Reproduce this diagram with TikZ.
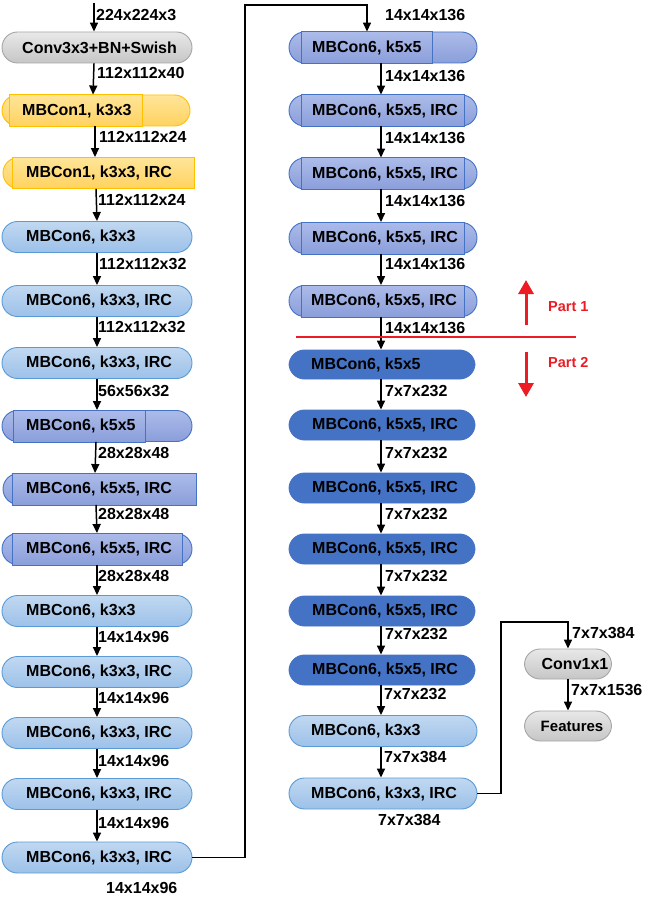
\documentclass[tikz,border=0pt]{standalone}
\usepackage{fontspec}
\setmainfont{Liberation Sans}
\usetikzlibrary{arrows.meta,calc}
\definecolor{lbT}{RGB}{193,216,241}
\definecolor{lbB}{RGB}{156,193,233}
\definecolor{lbD}{RGB}{91,155,213}
\definecolor{pT}{RGB}{172,187,233}
\definecolor{pB}{RGB}{138,158,218}
\definecolor{pD}{RGB}{68,114,196}
\definecolor{dk}{RGB}{68,114,196}
\definecolor{yT}{RGB}{255,229,153}
\definecolor{yB}{RGB}{255,210,95}
\definecolor{yD}{RGB}{255,192,0}
\definecolor{gT}{RGB}{232,232,232}
\definecolor{gB}{RGB}{198,198,198}
\definecolor{gD}{RGB}{165,165,165}
\definecolor{redc}{RGB}{237,28,36}
\begin{document}
\begin{tikzpicture}[x=1pt,y=-1pt,
 pill/.style={rectangle,rounded corners=15.5pt,minimum height=31pt,inner sep=0pt,line width=0.9pt},
 lw/.style={minimum width=190pt},
 rw/.style={minimum width=188pt},
 lb/.style={pill,draw=lbD,top color=lbT,bottom color=lbB},
 pu/.style={pill,draw=pD,top color=pT,bottom color=pB},
 purect/.style={draw=pD,line width=0.9pt,top color=pT,bottom color=pB},
 dkb/.style={pill,draw=dk,fill=dk},
 ye/.style={pill,draw=yD,top color=yT,bottom color=yB},
 yerect/.style={draw=yD,line width=0.9pt,top color=yT,bottom color=yB},
 gr/.style={pill,draw=gD,top color=gT,bottom color=gB},
 btxt/.style={anchor=west,inner sep=0pt,font=\bfseries\fontsize{16}{19}\selectfont},
 lab/.style={anchor=west,inner sep=0pt,font=\bfseries\fontsize{16}{19}\selectfont},
 arr/.style={-{Triangle[length=9pt,width=8pt]},line width=1.5pt},
 redline/.style={draw=redc,line width=2.8pt},
 redarr/.style={draw=redc,line width=3pt,-{Triangle[length=14pt,width=15pt]},redc},
 ptxt/.style={anchor=west,inner sep=0pt,text=redc,font=\bfseries\fontsize{14.5}{17}\selectfont}
]
\useasboundingbox (0,0) rectangle (655,909);

% ---- left column pills
\node[gr,lw] (L0) at (97,47.5) {};
\node[ye,minimum width=188pt] (L1) at (96,110.5) {};
\node[ye,minimum width=186pt] (L2) at (96,173) {};
\node[lb,lw] (L3) at (97,237) {};
\node[lb,lw] (L4) at (97,301) {};
\node[lb,lw] (L5) at (97,363) {};
\node[pu,lw] (L6) at (97,426) {};
\node[pu,minimum width=186pt] (L7) at (96,489) {};
\node[pu,lw] (L8) at (97,549) {};
\node[lb,lw] (L9) at (97,611) {};
\node[lb,lw] (L10) at (97,672) {};
\node[lb,lw] (L11) at (97,733) {};
\node[lb,lw] (L12) at (97,794) {};
\node[lb,lw] (L13) at (97,857.5) {};

% ---- right column pills
\node[pu,rw] (R0) at (383,47.5) {};
\node[pu,rw] (R1) at (383,110.5) {};
\node[pu,rw] (R2) at (383,173.5) {};
\node[pu,rw] (R3) at (383,238) {};
\node[pu,rw] (R4) at (383,301) {};
\node[dkb,minimum width=186pt,minimum height=29pt] (R5) at (382,364.5) {};
\node[dkb,minimum width=186pt,minimum height=30pt] (R6) at (382,425) {};
\node[dkb,minimum width=186pt,minimum height=30pt] (R7) at (382,488) {};
\node[dkb,minimum width=186pt,minimum height=30pt] (R8) at (382,549) {};
\node[dkb,minimum width=186pt,minimum height=30pt] (R9) at (382,611) {};
\node[dkb,minimum width=186pt,minimum height=30pt] (R10) at (382,670) {};
\node[lb,rw] (R11) at (383,731) {};
\node[lb,rw] (R12) at (383,793.5) {};

% ---- side pills
\node[gr,minimum width=87pt,minimum height=30pt] (C1) at (568,664) {};
\node[gr,minimum width=87pt,minimum height=30pt] (F1) at (568,726) {};

% ---- inner rectangles
\draw[yerect] ($(L1.north west)+(8,0)$) rectangle ($(L1.south west)+(141,0)$);
\draw[yerect] ($(L2.north west)+(10,0)$) rectangle ($(L2.south west)+(192,0)$);
\draw[purect] ($(L6.north west)+(12,0)$) rectangle ($(L6.south west)+(144,0)$);
\draw[purect] ($(L7.north west)+(10,0)$) rectangle ($(L7.south west)+(194,0)$);
\draw[purect] ($(L8.north west)+(11,0)$) rectangle ($(L8.south west)+(181,0)$);
\draw[purect] ($(R0.north west)+(13,0)$) rectangle ($(R0.south west)+(144,0)$);
\draw[purect] ($(R1.north west)+(13,0)$) rectangle ($(R1.south west)+(176,0)$);
\draw[purect] ($(R2.north west)+(13,0)$) rectangle ($(R2.south west)+(176,0)$);
\draw[purect] ($(R3.north west)+(13,0)$) rectangle ($(R3.south west)+(176,0)$);
\draw[purect] ($(R4.north west)+(13,0)$) rectangle ($(R4.south west)+(176,0)$);

% ---- texts in pills
\node[btxt] (L0t) at (22,47.5) {Conv3x3+BN+Swish};
\node[btxt] (L1t) at (22,110.5) {MBCon1, k3x3};
\node[btxt] (L2t) at (26,173) {MBCon1, k3x3, IRC};
\node[btxt] (L3t) at (26,237) {MBCon6, k3x3};
\node[btxt] (L4t) at (26,301) {MBCon6, k3x3, IRC};
\node[btxt] (L5t) at (26,363) {MBCon6, k3x3, IRC};
\node[btxt] (L6t) at (26,426) {MBCon6, k5x5};
\node[btxt] (L7t) at (26,489) {MBCon6, k5x5, IRC};
\node[btxt] (L8t) at (26,549) {MBCon6, k5x5, IRC};
\node[btxt] (L9t) at (26,611) {MBCon6, k3x3};
\node[btxt] (L10t) at (26,672) {MBCon6, k3x3, IRC};
\node[btxt] (L11t) at (26,733) {MBCon6, k3x3, IRC};
\node[btxt] (L12t) at (26,794) {MBCon6, k3x3, IRC};
\node[btxt] (L13t) at (26,857.5) {MBCon6, k3x3, IRC};

\node[btxt] (R0t) at (312,47.5) {MBCon6, k5x5};
\node[btxt] (R1t) at (312,110.5) {MBCon6, k5x5, IRC};
\node[btxt] (R2t) at (312,173.5) {MBCon6, k5x5, IRC};
\node[btxt] (R3t) at (312,238) {MBCon6, k5x5, IRC};
\node[btxt] (R4t) at (311,301) {MBCon6, k5x5, IRC};
\node[btxt] (R5t) at (311,364.5) {MBCon6, k5x5};
\node[btxt] (R6t) at (312,425) {MBCon6, k5x5, IRC};
\node[btxt] (R7t) at (312,488) {MBCon6, k5x5, IRC};
\node[btxt] (R8t) at (312,549) {MBCon6, k5x5, IRC};
\node[btxt] (R9t) at (312,611) {MBCon6, k5x5, IRC};
\node[btxt] (R10t) at (312,670) {MBCon6, k5x5, IRC};
\node[btxt] (R11t) at (311,731) {MBCon6, k3x3};
\node[btxt] (R12t) at (311,793.5) {MBCon6, k3x3, IRC};

\node[btxt,anchor=center] (C1t) at (575,664) {Conv1x1};
\node[btxt,anchor=center,font=\bfseries\fontsize{15}{18}\selectfont] (F1t) at (572,726) {Features};

% ---- left arrows and labels
\coordinate (in0) at (94,3);
\draw[arr] (in0) -- (in0 |- L0.north);
\node[lab] (ll0) at (96,15) {224x224x3};
\draw[arr] ([xshift=-3pt]L0.south) -- ([xshift=-3pt]L1.north);
\node[lab] (ll1) at (97,73) {112x112x40};
\draw[arr] ([xshift=-1pt]L1.south) -- ([xshift=-1pt]L2.north);
\node[lab] (ll2) at (99,137) {112x112x24};
\draw[arr] (L2.south) -- (L3.north);
\node[lab] (ll3) at (98,200) {112x112x24};
\draw[arr] (L3.south) -- (L4.north);
\node[lab] (ll4) at (99,264) {112x112x32};
\draw[arr] (L4.south) -- (L5.north);
\node[lab] (ll5) at (98,327) {112x112x32};
\draw[arr] (L5.south) -- (L6.north);
\node[lab] (ll6) at (98,391) {56x56x32};
\draw[arr] ([xshift=-1pt]L6.south) -- ([xshift=-1pt]L7.north);
\node[lab] (ll7) at (98,453) {28x28x48};
\draw[arr] (L7.south) -- (L8.north);
\node[lab] (ll8) at (98,514) {28x28x48};
\draw[arr] (L8.south) -- (L9.north);
\node[lab] (ll9) at (98,576) {28x28x48};
\draw[arr] (L9.south) -- (L10.north);
\node[lab] (ll10) at (98,637) {14x14x96};
\draw[arr] (L10.south) -- (L11.north);
\node[lab] (ll11) at (98,698) {14x14x96};
\draw[arr] (L11.south) -- (L12.north);
\node[lab] (ll12) at (98,761) {14x14x96};
\draw[arr] (L12.south) -- (L13.north);
\node[lab] (ll13) at (98,823) {14x14x96};
\node[lab] (ll14) at (106,888) {14x14x96};

% ---- connector left -> right column
\coordinate (c1) at (245,5);
\coordinate (j1) at (367,5);
\draw[arr] (L13.east) -| (c1) -- (j1) -- (j1 |- R0.north);
\node[lab] (rl0) at (385,15) {14x14x136};

% ---- right arrows and labels
\draw[arr] ([xshift=-2pt]R0.south) -- ([xshift=-2pt]R1.north);
\node[lab] (rl1) at (385,76) {14x14x136};
\draw[arr] ([xshift=-2pt]R1.south) -- ([xshift=-2pt]R2.north);
\node[lab] (rl2) at (385,138) {14x14x136};
\draw[arr] ([xshift=-2pt]R2.south) -- ([xshift=-2pt]R3.north);
\node[lab] (rl3) at (385,201) {14x14x136};
\draw[arr] ([xshift=-2pt]R3.south) -- ([xshift=-2pt]R4.north);
\node[lab] (rl4) at (385,264) {14x14x136};
\draw[arr] ([xshift=-2pt]R4.south) -- ([xshift=-1pt]R5.north);
\node[lab] (rl5) at (385,328) {14x14x136};
\draw[arr] ([xshift=-1pt]R5.south) -- ([xshift=-1pt]R6.north);
\node[lab] (rl6) at (385,391) {7x7x232};
\draw[arr] ([xshift=-1pt]R6.south) -- ([xshift=-1pt]R7.north);
\node[lab] (rl7) at (385,453) {7x7x232};
\draw[arr] ([xshift=-1pt]R7.south) -- ([xshift=-1pt]R8.north);
\node[lab] (rl8) at (385,514) {7x7x232};
\draw[arr] ([xshift=-1pt]R8.south) -- ([xshift=-1pt]R9.north);
\node[lab] (rl9) at (385,576) {7x7x232};
\draw[arr] ([xshift=-1pt]R9.south) -- ([xshift=-1pt]R10.north);
\node[lab] (rl10) at (385,634) {7x7x232};
\draw[arr] ([xshift=-1pt]R10.south) -- ([xshift=-2pt]R11.north);
\node[lab] (rl11) at (384,694) {7x7x232};
\draw[arr] ([xshift=-2pt]R11.south) -- ([xshift=-2pt]R12.north);
\node[lab] (rl12) at (384,757) {7x7x384};
\node[lab] (rl13) at (378,820) {7x7x384};

% ---- connector to head
\coordinate (c2) at (501,622);
\draw[arr] (R12.east) -| (c2) -| (C1.north);
\node[lab] (sl1) at (572,633) {7x7x384};
\draw[arr] (C1.south) -- (F1.north);
\node[lab] (sl2) at (571,690) {7x7x1536};

% ---- red part divider
\coordinate (rd1) at (296,337);
\coordinate (rd2) at (576,337);
\draw[redline] (rd1) -- (rd2);
\coordinate (ua) at (526,325);
\coordinate (ub) at (526,280);
\draw[redarr] (ua) -- (ub);
\coordinate (da) at (526,352);
\coordinate (db) at (526,397);
\draw[redarr] (da) -- (db);
\node[ptxt] (p1) at (548,307) {Part 1};
\node[ptxt] (p2) at (548,363) {Part 2};
\end{tikzpicture}
\end{document}
